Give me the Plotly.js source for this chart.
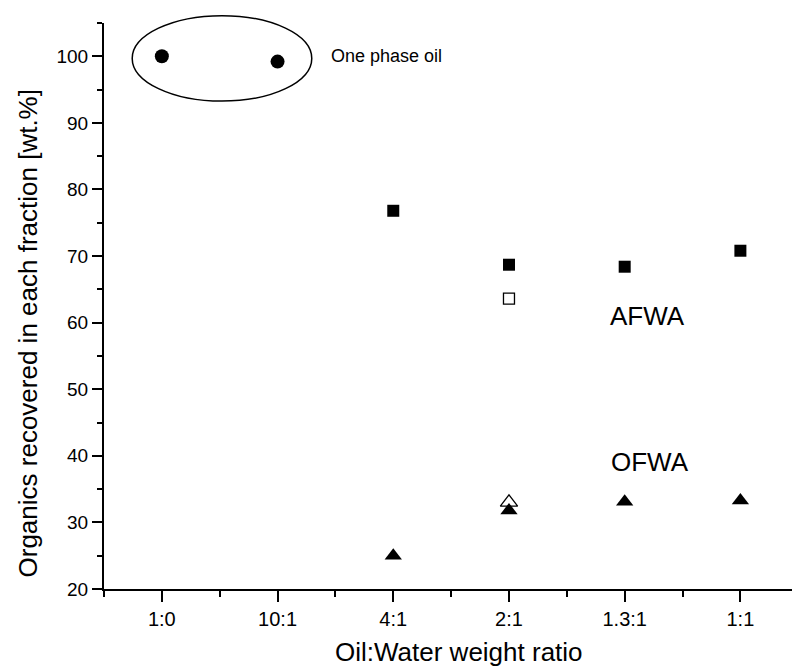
<!DOCTYPE html>
<html>
<head>
<meta charset="utf-8">
<script src="https://cdn.plot.ly/plotly-3.0.1.min.js"></script>
<style>html,body{margin:0;padding:0;background:#fff;overflow:hidden}#chart{width:792px;height:669px}</style>
</head>
<body>
<div id="chart"></div>
<script>
// Category positions and labels
const ratioLabels = ["1:0", "10:1", "4:1", "2:1", "1.3:1", "1:1"];
const ratioPos = [0, 1, 2, 3, 4, 5];

// One phase oil (filled circles)
const onePhaseX = [0, 1];
const onePhaseY = [100.0, 99.2];

// AFWA (filled squares) and repeat (open square)
const afwaX = [2, 3, 4, 5];
const afwaY = [76.8, 68.7, 68.4, 70.8];
const afwaOpenX = [3];
const afwaOpenY = [63.6];

// OFWA (filled triangles) and repeat (open triangle)
const ofwaX = [2, 3, 4, 5];
const ofwaY = [25.0, 31.8, 33.1, 33.3];
const ofwaOpenX = [3];
const ofwaOpenY = [33.0];

const xTitle = "Oil:Water weight ratio";
const yTitle = "Organics recovered in each fraction [wt.%]";

const FONT = "Liberation Sans, Arial, Helvetica, sans-serif";

const traces = [
  {x: onePhaseX, y: onePhaseY, type: "scatter", mode: "markers", cliponaxis: false,
   marker: {symbol: "circle", size: 14, color: "#000"}},
  {x: afwaX, y: afwaY, type: "scatter", mode: "markers",
   marker: {symbol: "square", size: 12, color: "#000"}},
  {x: afwaOpenX, y: afwaOpenY, type: "scatter", mode: "markers",
   marker: {symbol: "square-open", size: 11, color: "#000", line: {width: 1.3, color: "#000"}}},
  {x: ofwaOpenX, y: ofwaOpenY, type: "scatter", mode: "markers",
   marker: {symbol: "triangle-up-open", size: 15, color: "#000", line: {width: 1.3, color: "#000"}}},
  {x: ofwaX, y: ofwaY, type: "scatter", mode: "markers",
   marker: {symbol: "triangle-up", size: 15, color: "#000"}}
];

const minorX = [-0.5, 0.5, 1.5, 2.5, 3.5, 4.5, 5.5];

const layout = {
  width: 792, height: 669,
  margin: {l: 104, r: 0, t: 23, b: 80},
  paper_bgcolor: "#fff", plot_bgcolor: "#fff",
  showlegend: false,
  font: {family: FONT, color: "#000", size: 19},
  xaxis: {
    range: [-0.5, 5.446],
    tickmode: "array", tickvals: ratioPos, ticktext: ratioLabels,
    ticks: "outside", ticklen: 11, tickwidth: 2, tickcolor: "#000",
    minor: {tickvals: minorX, ticks: "outside", ticklen: 6, tickwidth: 2, tickcolor: "#000"},
    showline: true, linewidth: 2, linecolor: "#000",
    showgrid: false, zeroline: false,
    tickfont: {size: 20, family: FONT}
  },
  yaxis: {
    range: [20, 105],
    tickmode: "linear", tick0: 20, dtick: 10,
    ticks: "outside", ticklen: 10, tickwidth: 2, tickcolor: "#000",
    minor: {tick0: 25, dtick: 10, ticks: "outside", ticklen: 5, tickwidth: 2, tickcolor: "#000"},
    showline: true, linewidth: 2, linecolor: "#000",
    showgrid: false, zeroline: false,
    tickfont: {size: 19, family: FONT}
  },
  shapes: [
    {type: "circle", xref: "paper", yref: "paper",
     x0: 0.041, x1: 0.302, y0: 0.862, y1: 1.013,
     line: {color: "#000", width: 1.5}, fillcolor: "rgba(0,0,0,0)", layer: "below"}
  ],
  annotations: [
    {x: 0.516, y: -0.112, xref: "paper", yref: "paper", text: xTitle, showarrow: false,
     xanchor: "center", yanchor: "middle", font: {size: 26, family: FONT}},
    {x: -0.110, y: 0.452, xref: "paper", yref: "paper", text: yTitle, showarrow: false,
     textangle: -90, xanchor: "center", yanchor: "middle", font: {size: 26, family: FONT}},
    {x: 1.446, y: 100, xref: "x", yref: "y", text: "One phase oil", showarrow: false,
     xanchor: "left", yanchor: "middle", font: {size: 18, family: FONT}},
    {x: 4.2, y: 61.05, xref: "x", yref: "y", text: "AFWA", showarrow: false,
     xanchor: "center", yanchor: "middle", font: {size: 26, family: FONT}},
    {x: 4.22, y: 39.1, xref: "x", yref: "y", text: "OFWA", showarrow: false,
     xanchor: "center", yanchor: "middle", font: {size: 26, family: FONT}}
  ]
};

Plotly.newPlot("chart", traces, layout, {displayModeBar: false, staticPlot: true});
</script>
</body>
</html>
